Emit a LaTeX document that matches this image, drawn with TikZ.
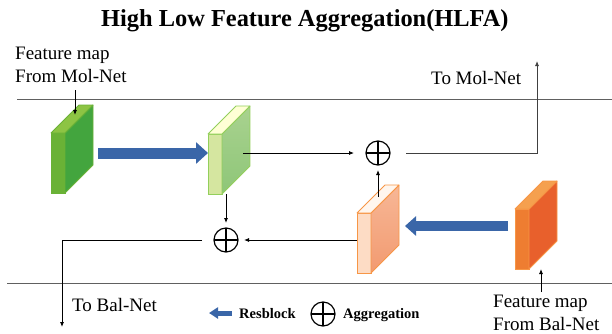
\documentclass[tikz,border=0pt]{standalone}
\usepackage{fontspec}
\setmainfont{Liberation Serif}
\usetikzlibrary{arrows.meta,calc}
\definecolor{resblue}{HTML}{3A66A8}
\definecolor{gfront}{HTML}{6AB236}
\definecolor{gside}{HTML}{43A53E}
\definecolor{gtop}{HTML}{8DC444}
\definecolor{lgfront}{HTML}{D5E6A0}
\definecolor{lgsideA}{HTML}{A9D28F}
\definecolor{lgsideB}{HTML}{8EC678}
\definecolor{lgtop}{HTML}{FFFFD5}
\definecolor{lgborder}{HTML}{93CF5B}
\definecolor{lofront}{HTML}{FDDCC5}
\definecolor{losideA}{HTML}{F7B796}
\definecolor{losideB}{HTML}{F29A70}
\definecolor{lotop}{HTML}{FFF6EE}
\definecolor{oborder}{HTML}{F79646}
\definecolor{dofront}{HTML}{EE7D31}
\definecolor{doside}{HTML}{E8602C}
\definecolor{dotop}{HTML}{F5A04F}
\definecolor{sepgray}{HTML}{606060}

% #1 name, #2 north-west corner of front face, #3 front, #4 side top, #5 side bottom, #6 top, #7 border
\newcommand{\myslab}[7]{%
  \node[face, fill=#3, draw=#7] (#1) at #2 {};
  \shade[top color=#4, bottom color=#5, draw=#7, line width=0.8pt, line join=round]
    (#1.north east) -- ++(28,-28) -- ++(0,60) -- (#1.south east) -- cycle;
  \filldraw[fill=#6, draw=#7, line width=0.8pt, line join=round]
    (#1.north west) -- (#1.north east) -- ++(28,-28) -- ++(-14,0) -- cycle;
}

\tikzset{
  conn/.style={draw=black, line width=0.8pt, -{Latex[length=5pt,width=4pt]}},
  sepline/.style={draw=sepgray, line width=0.9pt},
  aggr/.style={circle, draw=black, line width=1.2pt, minimum size=24pt, inner sep=0pt, outer sep=0pt,
    path picture={\draw[line width=1.2pt] (path picture bounding box.north) -- (path picture bounding box.south)
      (path picture bounding box.west) -- (path picture bounding box.east);}},
  lbl/.style={font=\fontsize{19}{23}\selectfont, inner sep=0pt, anchor=base west},
  leg/.style={font=\bfseries\fontsize{14.5}{17}\selectfont, inner sep=0pt, anchor=base west},
  face/.style={inner sep=0pt, outer sep=0pt, minimum width=14pt, minimum height=60pt, anchor=north west, line width=0.8pt},
  resarr/.style={draw=resblue, line width=11pt, -{Triangle[length=12pt,width=21pt]}},
}

\begin{document}
\begin{tikzpicture}[x=1pt,y=-1pt]
\useasboundingbox (0,0) rectangle (612,333);

% title
\node[font=\bfseries\fontsize{24.4}{28}\selectfont, anchor=base west, inner sep=0pt] (title) at (101,26) {High Low Feature Aggregation(HLFA)};

% separator lines
\draw[sepline] (17,99) -- (612,99);
\draw[sepline] (7,283) -- (612,283);

% labels
\node[lbl] (fm1) at (15,59) {Feature map};
\node[lbl] (fm2) at (15,82) {From Mol-Net};
\node[lbl] (tm) at (431,84) {To Mol-Net};
\node[lbl] (tb) at (72,311) {To Bal-Net};
\node[lbl] (fb1) at (493,307) {Feature map};
\node[lbl] (fb2) at (493,330) {From Bal-Net};

% slabs
\myslab{g1}{(51,133)}{gfront}{gside}{gside}{gtop}{gfront}
\myslab{lg}{(208,134)}{lgfront}{lgsideA}{lgsideB}{lgtop}{lgborder}
\myslab{lo}{(357,213)}{lofront}{losideA}{losideB}{lotop}{oborder}
\myslab{do}{(515,209)}{dofront}{doside}{doside}{dotop}{oborder}

% aggregation nodes
\node[aggr] (a1) at (378,153) {};
\node[aggr] (a2) at (226,240) {};

% resblock arrows
\coordinate (r1s) at (98,153);
\draw[resarr] (r1s) -- (r1s -| lg.west);
\coordinate (r2s) at (508,226);
\draw[resarr, line width=10pt, -{Triangle[length=11pt,width=19pt]}] (r2s) -- ($(r2s -| lo.east)+(34,0)$);

% connectors
\coordinate (mf) at (75,90);
\draw[conn] (mf) -- ($(g1.north west)+(24,-18)$);
\coordinate (lgout) at (243,153);
\draw[conn, shorten >=12pt] (lgout) -- (a1.west);
\coordinate (tomol) at (537,61);
\draw[conn, draw=black!75, shorten <=16pt] (a1.east) -| (tomol);
\draw[conn, shorten >=5pt] ($(lo.north west)+(21,-16)$) -- (a1.south);
\draw[conn, shorten >=6pt] (lo.west |- a2.east) -- (a2.east);
\draw[conn, shorten >=5pt] (lg.south -| a2.north) -- (a2.north);
\coordinate (tobal) at (62,327);
\draw[conn, shorten <=12pt] (a2.west) -| (tobal);
\coordinate (bf) at (541,292);
\draw[conn] (bf) -- (bf |- do.south);

% legend
\coordinate (legA) at (232,313);
\draw[resarr, line width=5pt, -{Triangle[length=9pt,width=11pt]}] (legA) -- ++(-23,0);
\node[leg] (lres) at (239,318) {Resblock};
\node[aggr] (la) at (323,314) {};
\node[leg] (lagg) at (343,318) {Aggregation};
\end{tikzpicture}
\end{document}
